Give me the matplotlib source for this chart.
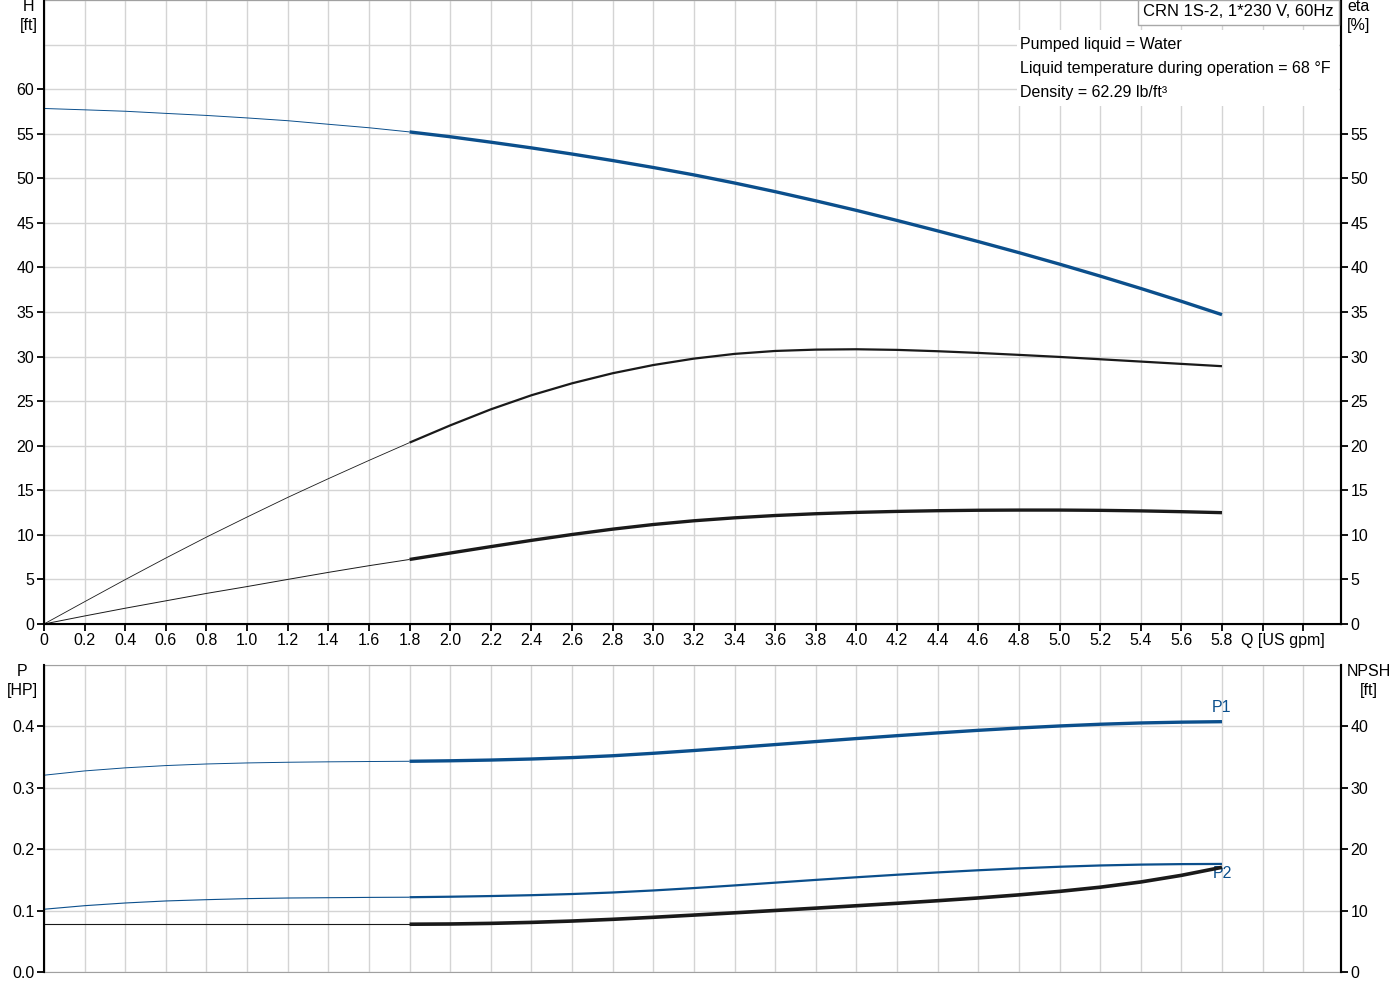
import matplotlib
matplotlib.use("Agg")
import matplotlib.pyplot as plt
from matplotlib.patches import Rectangle

plt.rcParams['font.family'] = ['Liberation Sans', 'DejaVu Sans']
plt.rcParams['font.size'] = 11.5

# flow, US gpm
Q = [0.0, 0.2, 0.4, 0.6, 0.8, 1.0, 1.2, 1.4, 1.6, 1.8,
     2.0, 2.2, 2.4, 2.6, 2.8, 3.0, 3.2, 3.4, 3.6, 3.8,
     4.0, 4.2, 4.4, 4.6, 4.8, 5.0, 5.2, 5.4, 5.6, 5.8]
# head, ft
H = [57.83, 57.68, 57.52, 57.28, 57.05, 56.77, 56.46, 56.06, 55.67, 55.2,
     54.66, 54.05, 53.41, 52.72, 51.99, 51.21, 50.38, 49.47, 48.5, 47.47,
     46.4, 45.27, 44.1, 42.9, 41.66, 40.37, 39.03, 37.64, 36.2, 34.7]
# pump efficiency, %
eta_pump = [0.0, 2.5, 4.98, 7.4, 9.75, 12.0, 14.2, 16.3, 18.35, 20.35,
            22.28, 24.08, 25.66, 27.0, 28.13, 29.05, 29.77, 30.3, 30.63, 30.78,
            30.82, 30.75, 30.6, 30.41, 30.19, 29.96, 29.7, 29.44, 29.18, 28.92]
# total efficiency, %
eta_total = [0.0, 0.9, 1.77, 2.6, 3.43, 4.2, 5.0, 5.79, 6.54, 7.24,
             7.96, 8.68, 9.38, 10.04, 10.64, 11.16, 11.58, 11.91, 12.17, 12.37,
             12.52, 12.63, 12.71, 12.76, 12.78, 12.78, 12.75, 12.69, 12.6, 12.49]
# power, HP
P1 = [0.3205, 0.3275, 0.3325, 0.3362, 0.3388, 0.3405, 0.3416, 0.3423, 0.3428, 0.3432,
      0.344, 0.3452, 0.3469, 0.3492, 0.3522, 0.3562, 0.3607, 0.3655, 0.3704, 0.3753,
      0.3802, 0.3849, 0.3894, 0.3936, 0.3974, 0.4007, 0.4035, 0.4056, 0.4069, 0.4077]
P2 = [0.1022, 0.108, 0.1124, 0.1157, 0.1178, 0.1195, 0.1205, 0.121, 0.1215, 0.1218,
      0.1226, 0.1237, 0.1251, 0.127, 0.1295, 0.1328, 0.1367, 0.141, 0.1455, 0.15,
      0.1543, 0.1584, 0.1622, 0.1657, 0.1688, 0.1714, 0.1735, 0.1749, 0.1757, 0.176]
# NPSH, ft
NPSH = [7.78, 7.78, 7.78, 7.78, 7.78, 7.78, 7.78, 7.78, 7.78, 7.78,
        7.82, 7.92, 8.08, 8.3, 8.58, 8.91, 9.27, 9.64, 10.02, 10.4,
        10.79, 11.19, 11.61, 12.06, 12.56, 13.13, 13.81, 14.66, 15.74, 17.05]

x_ticks = [round(0.2 * i, 1) for i in range(32)]
x_labels = ['0'] + ['%.1f' % v for v in x_ticks[1:30]] + ['', '']

BLUE = '#0b4f8c'
GRID = '#d4d4d4'
split = 9  # Q = 1.8, where the thin part of the curves ends

fig = plt.figure(figsize=(14, 10), dpi=100)
ax = fig.add_axes([44 / 1400, 1 - 624 / 1000, 1297 / 1400, 624 / 1000])
bx = fig.add_axes([44 / 1400, 1 - 972 / 1000, 1297 / 1400, 307 / 1000])


def style(a):
    a.set_xlim(0, 6.386)
    a.set_xticks(x_ticks)
    a.grid(True, which='both', color=GRID, lw=1)
    a.set_axisbelow(True)
    a.spines['top'].set_color('#a0a0a0')
    a.spines['left'].set_linewidth(1.5)
    a.spines['right'].set_linewidth(1.5)
    a.tick_params(axis='y', length=5, width=1.3, pad=2)
    a.tick_params(axis='y', which='minor', length=0)


def two_part(a, y, color, lw_thin, lw_thick):
    a.plot(Q[:split + 1], y[:split + 1], color=color, lw=lw_thin, solid_capstyle='butt')
    a.plot(Q[split:], y[split:], color=color, lw=lw_thick, solid_capstyle='butt')


# ---- upper chart: head and efficiencies
style(ax)
ax.set_ylim(0, 70)
ax.set_yticks(range(0, 61, 5))
ax.set_yticks([65, 70], minor=True)
ax.set_xticklabels(x_labels)
ax.tick_params(axis='x', length=5, width=1.3, pad=1.5)
ax.spines['bottom'].set_linewidth(1.5)

two_part(ax, H, BLUE, 0.7, 2.4)
two_part(ax, eta_pump, '#1a1a1a', 0.6, 1.6)
two_part(ax, eta_total, '#1a1a1a', 0.7, 2.4)

ar = ax.twinx()
ar.set_ylim(0, 70)
ar.set_yticks(range(0, 56, 5))
ar.tick_params(axis='y', length=5, width=1.3, pad=2)
ar.spines['right'].set_linewidth(1.5)
ar.spines['top'].set_visible(False)

ax.text(6.1, -16 / 624, 'Q [US gpm]', transform=ax.get_xaxis_transform(),
        ha='center', va='center')

ax.add_patch(Rectangle((1017 / 1400, 1 - 106 / 1000), 322 / 1400, 76 / 1000,
                       transform=fig.transFigure, facecolor='white',
                       edgecolor='none', zorder=1))
info = ['Pumped liquid = Water',
        'Liquid temperature during operation = 68 °F',
        'Density = 62.29 lb/ft³']
for i, line in enumerate(info):
    fig.text(1020 / 1400, 1 - (44 + 24 * i) / 1000, line, ha='left', va='center')

fig.text(1334 / 1400, 1 - 12 / 1000, 'CRN 1S-2, 1*230 V, 60Hz', ha='right', va='center',
         fontsize=12,
         bbox=dict(boxstyle='square,pad=0.3', facecolor='white', edgecolor='#a8a8a8', lw=1))

fig.text(29 / 1400, 1 - 16 / 1000, 'H\n[ft]', ha='center', va='center', linespacing=1.4)
fig.text(1359 / 1400, 1 - 16 / 1000, 'eta\n[%]', ha='center', va='center', linespacing=1.4)

# ---- lower chart: power and NPSH
style(bx)
bx.set_ylim(0, 0.5)
bx.set_yticks([0.0, 0.1, 0.2, 0.3, 0.4])
bx.set_yticks([0.5], minor=True)
bx.set_yticklabels(['0.0', '0.1', '0.2', '0.3', '0.4'])
bx.tick_params(axis='x', length=0, labelbottom=False)
bx.spines['bottom'].set_color('#a0a0a0')

two_part(bx, P1, BLUE, 0.7, 2.4)
two_part(bx, P2, BLUE, 0.8, 1.6)

br = bx.twinx()
br.set_ylim(0, 50)
br.set_yticks([0, 10, 20, 30, 40])
br.tick_params(axis='y', length=5, width=1.3, pad=2)
br.spines['right'].set_linewidth(1.5)
br.spines['top'].set_visible(False)
br.spines['bottom'].set_visible(False)
two_part(br, NPSH, '#1a1a1a', 0.8, 2.6)

bx.text(Q[-1], P1[-1] + 0.011, 'P1', color=BLUE, ha='center', va='bottom')
bx.text(Q[-1], P2[-1] - 0.004, 'P2', color=BLUE, ha='center', va='top')

fig.text(22 / 1400, 1 - 681 / 1000, 'P\n[HP]', ha='center', va='center', linespacing=1.4)
fig.text(1369 / 1400, 1 - 681 / 1000, 'NPSH\n[ft]', ha='center', va='center', linespacing=1.4)

fig.savefig('out.png', dpi=100, facecolor='white')
